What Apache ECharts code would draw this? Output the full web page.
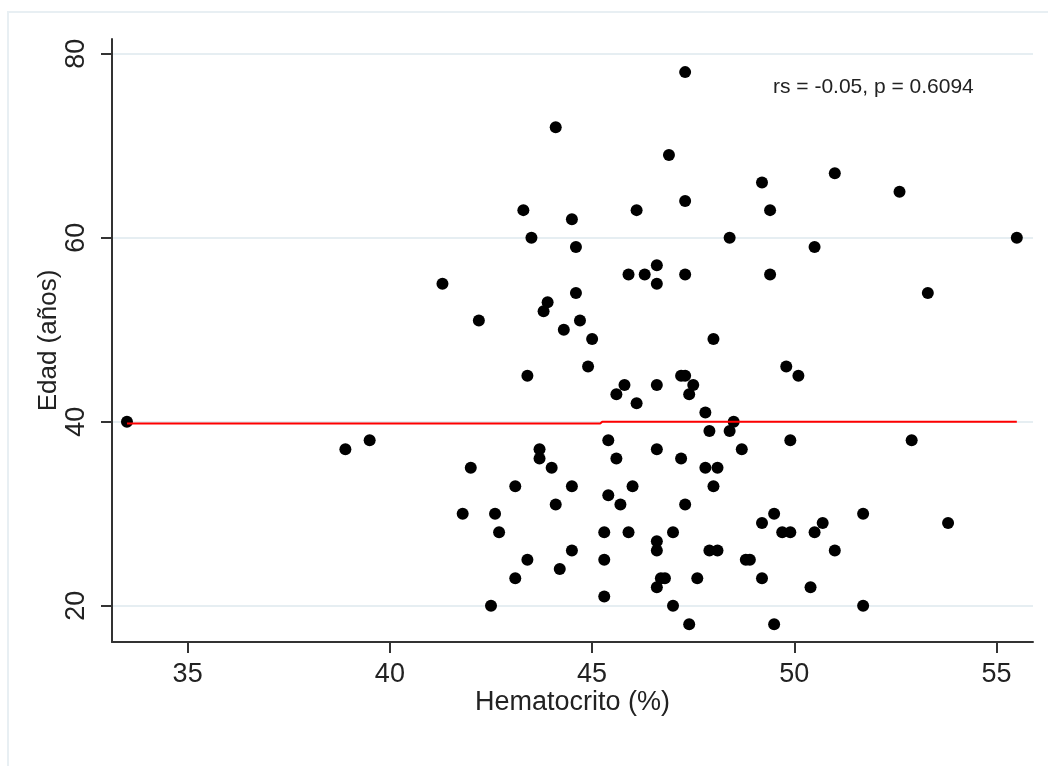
<!DOCTYPE html>
<html>
<head>
<meta charset="utf-8">
<script src="https://cdn.jsdelivr.net/npm/echarts@6/dist/echarts.min.js"></script>
<style>
    html, body { margin: 0; padding: 0; background: #fff; }
</style>
</head>
<body>
<div id="main" style="width: 1048px;height:766px;"></div>
<script>
    // Hematocrito (%) y edad (años) de cada paciente
    var hematocrito = [
        33.5, 38.9, 39.5, 41.3, 42.2, 42.0, 41.8, 42.6, 42.7, 42.5,
        43.1, 43.1, 43.4, 43.3, 43.5, 43.4, 44.1, 43.8, 43.9, 43.7,
        43.7, 44.0, 44.1, 44.2, 44.5, 44.6, 44.6, 44.7, 44.3, 45.0,
        44.9, 44.5, 44.5, 45.3, 45.3, 45.3, 45.4, 45.4, 45.6, 45.7,
        45.6, 45.8, 45.9, 45.9, 46.0, 46.1, 46.1, 46.3, 46.6, 46.6,
        46.6, 46.6, 46.6, 46.6, 46.6, 46.7, 46.8, 46.9, 47.0, 47.0,
        47.3, 47.3, 47.3, 47.2, 47.3, 47.5, 47.4, 47.2, 47.3, 47.4,
        47.6, 47.8, 47.9, 47.8, 48.1, 48.0, 47.9, 48.1, 48.0, 48.4,
        48.4, 48.5, 48.7, 48.8, 48.9, 49.2, 49.2, 49.2, 49.4, 49.4,
        49.5, 49.5, 49.8, 50.1, 49.9, 49.7, 49.9, 50.5, 50.5, 50.7,
        50.4, 51.0, 51.0, 51.7, 51.7, 52.6, 53.3, 52.9, 53.8, 55.5
    ];
    var edad = [
        40, 37, 38, 55, 51, 35, 30, 30, 28, 20,
        33, 23, 25, 63, 60, 45, 72, 52, 53, 37,
        36, 35, 31, 24, 62, 59, 54, 51, 50, 49,
        46, 33, 26, 21, 25, 28, 32, 38, 36, 31,
        43, 44, 56, 28, 33, 42, 63, 56, 57, 55,
        44, 37, 27, 26, 22, 23, 23, 69, 28, 20,
        78, 64, 56, 45, 45, 44, 43, 36, 31, 18,
        23, 41, 39, 35, 35, 33, 26, 26, 49, 60,
        39, 40, 37, 25, 25, 66, 29, 23, 63, 56,
        30, 18, 46, 45, 38, 28, 28, 59, 28, 29,
        22, 67, 26, 30, 20, 65, 54, 38, 29, 60
    ];
    // linea suavizada (roja)
    var lineaX = [33.5, 45.2, 45.25, 55.5];
    var lineaY = [39.8, 39.8, 40.0, 40.0];
    var ticksX = [35, 40, 45, 50, 55];
    var ticksY = [20, 40, 60, 80];
    var textoRs = 'rs = -0.05, p = 0.6094';

    var puntos = [];
    for (var i = 0; i < hematocrito.length; i++) {
        puntos.push([hematocrito[i], edad[i]]);
    }
    var linea = [];
    for (var j = 0; j < lineaX.length; j++) {
        linea.push([lineaX[j], lineaY[j]]);
    }

    var fuente = '"Liberation Sans", Arial, sans-serif';
    var myChart = echarts.init(document.getElementById('main'));
    var option = {
        animation: false,
        backgroundColor: '#fff',
        grid: {left: 112, right: 15, top: 39, bottom: 124},
        graphic: [
            {
                type: 'rect', z: -1,
                shape: {x: 8, y: 12, width: 1100, height: 800},
                style: {fill: 'none', stroke: '#e8eff3', lineWidth: 2}
            },
            {
                type: 'text', x: 773, y: 77,
                style: {text: textoRs, font: '21px ' + fuente, fill: '#222'}
            }
        ],
        xAxis: {
            type: 'value',
            min: 33.13,
            max: 55.9,
            name: 'Hematocrito (%)',
            nameLocation: 'middle',
            nameGap: 47,
            nameMoveOverlap: false,
            nameTextStyle: {fontFamily: fuente, fontSize: 27, color: '#222'},
            axisLine: {lineStyle: {color: '#333', width: 2}},
            axisTick: {show: true, length: 11, customValues: ticksX, lineStyle: {color: '#333', width: 2}},
            axisLabel: {customValues: ticksX, margin: 19, fontFamily: fuente, fontSize: 27, color: '#222'},
            splitLine: {show: false}
        },
        yAxis: {
            type: 'value',
            min: 16.06,
            max: 81.6,
            name: 'Edad (años)',
            nameLocation: 'middle',
            nameRotate: 90,
            nameGap: 50,
            nameMoveOverlap: false,
            nameTextStyle: {fontFamily: fuente, fontSize: 26, color: '#222'},
            axisLine: {show: true, lineStyle: {color: '#333', width: 2}},
            axisTick: {show: true, length: 11, customValues: ticksY, lineStyle: {color: '#333', width: 2}},
            axisLabel: {customValues: ticksY, rotate: 90, margin: 22, fontFamily: fuente, fontSize: 27, color: '#222'},
            splitLine: {show: true, lineStyle: {color: '#e6eef2', width: 2}}
        },
        series: [
            {
                type: 'scatter',
                data: puntos,
                symbol: 'circle',
                symbolSize: 12,
                itemStyle: {color: '#000', opacity: 1}
            },
            {
                type: 'line',
                data: linea,
                showSymbol: false,
                z: 5,
                lineStyle: {color: '#ff0000', width: 2}
            }
        ]
    };
    myChart.setOption(option);
</script>
</body>
</html>
